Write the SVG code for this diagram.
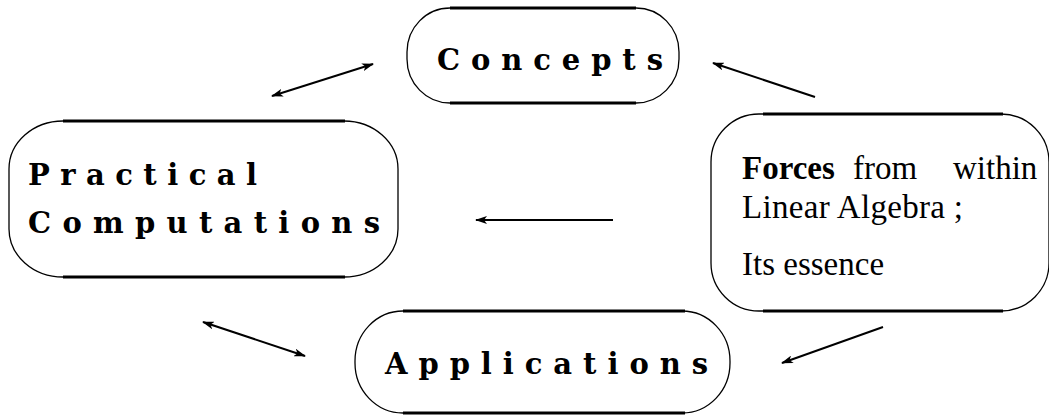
<svg xmlns="http://www.w3.org/2000/svg" width="1049" height="416" viewBox="0 0 1049 416">
<style>
.box{fill:none;stroke:#000;stroke-width:1.3}
.edge{stroke:#000;stroke-width:3;fill:none}
.lbl{font-family:"DejaVu Serif","Liberation Serif",serif;font-weight:bold;font-size:29px;fill:#000}
.txt{font-family:"Liberation Serif","DejaVu Serif",serif;font-size:33px;fill:#000}
.con{stroke:#000;stroke-width:2;fill:none}
</style>
<defs>
<marker id="ah" viewBox="0 0 12 8" refX="11" refY="4" markerWidth="12" markerHeight="8" markerUnits="userSpaceOnUse" orient="auto-start-reverse">
<path d="M0,0 L12,4 L0,8 L3,4 z" fill="#000"/>
</marker>
</defs>
<rect width="1049" height="416" fill="#fff"/>
<g id="concepts">
<rect class="box" x="407" y="8" width="272" height="95" rx="43" ry="44"/>
<line class="edge" x1="450" y1="8" x2="636" y2="8"/>
<line class="edge" x1="450" y1="103" x2="636" y2="103"/>
<text class="lbl" x="437" y="70" textLength="226" lengthAdjust="spacing">Concepts</text>
</g>
<g id="practical">
<rect class="box" x="9" y="121" width="389" height="156" rx="54" ry="48"/>
<line class="edge" x1="63" y1="121" x2="345" y2="121"/>
<line class="edge" x1="63" y1="277" x2="345" y2="277"/>
<text class="lbl" x="28" y="185" textLength="229" lengthAdjust="spacing">Practical</text>
<text class="lbl" x="28" y="233" textLength="352" lengthAdjust="spacing">Computations</text>
</g>
<g id="forces">
<rect class="box" x="711" y="114" width="338" height="197" rx="48" ry="48"/>
<line class="edge" x1="763" y1="114" x2="1003" y2="114"/>
<line class="edge" x1="763" y1="311" x2="1003" y2="311"/>
<text class="txt" y="179"><tspan x="742" font-weight="bold">Forces</tspan><tspan x="853">from</tspan><tspan x="953">within</tspan></text>
<text class="txt" x="742" y="218" textLength="221" lengthAdjust="spacing">Linear Algebra ;</text>
<text class="txt" x="742" y="275">Its essence</text>
</g>
<g id="applications">
<rect class="box" x="355" y="311" width="375" height="102" rx="48" ry="50"/>
<line class="edge" x1="403" y1="311" x2="685" y2="311"/>
<line class="edge" x1="403" y1="413" x2="685" y2="413"/>
<text class="lbl" x="385" y="374" textLength="323" lengthAdjust="spacing">Applications</text>
</g>
<g id="connectors">
<line class="con" x1="272" y1="96" x2="373" y2="64" marker-start="url(#ah)" marker-end="url(#ah)"/>
<line class="con" x1="815" y1="97" x2="713" y2="63" marker-end="url(#ah)"/>
<line class="con" x1="613" y1="220" x2="476" y2="220" marker-end="url(#ah)"/>
<line class="con" x1="203" y1="322" x2="305" y2="356" marker-start="url(#ah)" marker-end="url(#ah)"/>
<line class="con" x1="883" y1="327" x2="782" y2="363" marker-end="url(#ah)"/>
</g>
</svg>
